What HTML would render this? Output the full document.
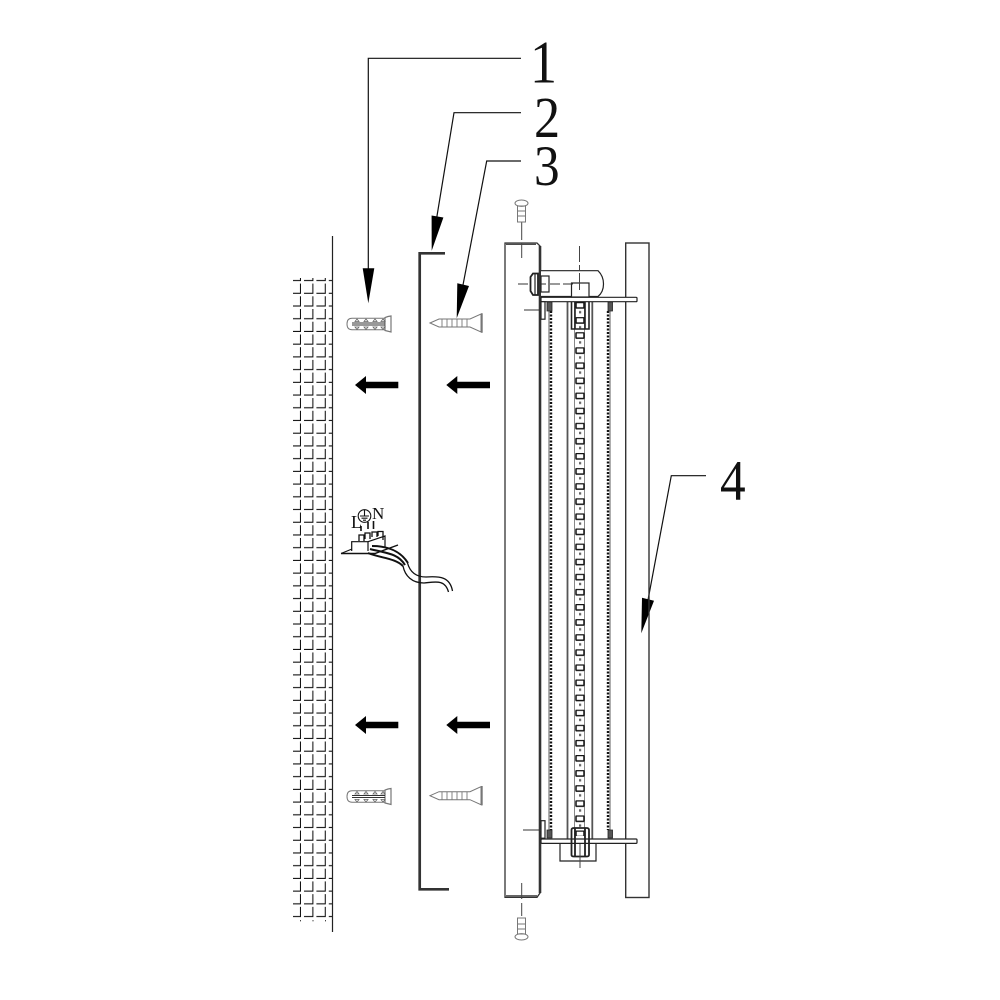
<!DOCTYPE html>
<html><head><meta charset="utf-8"><style>html,body{margin:0;padding:0;background:#fff}svg{display:block}text{font-family:"Liberation Serif",serif;fill:#111}</style></head><body>
<svg xmlns="http://www.w3.org/2000/svg" width="1000" height="1000" viewBox="0 0 1000 1000">
<defs>
<pattern id="g" patternUnits="userSpaceOnUse" width="12.4" height="12.72" patternTransform="translate(288.6 268.4)">
<path d="M3 12.3H12V2.5" fill="none" stroke="#111" stroke-width="1.3"/>
</pattern>
<pattern id="c" patternUnits="userSpaceOnUse" width="20" height="15.1" patternTransform="translate(570 302)">
<rect x="6" y="0.5" width="8" height="5.5" rx=".8" fill="#fff" stroke="#111" stroke-width="1.5"/>
<rect x="9" y="9" width="2.2" height="2.4" fill="#666"/>
</pattern>
<g id="dowel" fill="none" stroke="#777" stroke-width="1">
<path d="M38 .8H5Q0 .8 0 6.5T5 12.2H38"/>
<path d="M38 0V13L44 14.5V-1.5L41 -1Z" stroke-width="1.2"/>
<path d="M5 5.5H38M5 7.5H38" stroke="#333"/>
<path d="M8 4l2-2.5l2 2.5zM17 4l2-2.5l2 2.5zM26 4l2-2.5l2 2.5zM34 4l2-2.5l2 2.5zM8 9.5l2 2.5l2-2.5zM17 9.5l2 2.5l2-2.5zM26 9.5l2 2.5l2-2.5zM34 9.5l2 2.5l2-2.5z" stroke="#666" stroke-width=".8"/>
</g>
<g id="screw" fill="none" stroke="#777" stroke-width="1">
<path d="M0 0L9 -4H40L51 -9V9L40 4H9Z"/>
<path d="M51 -9L52 -9V9L51 9" stroke-width="1.4"/>
<path d="M12 -4V4M17 -4V4M22 -4V4M27 -4V4M32 -4V4M37 -4V4" stroke-width=".9"/>
</g>
<g id="pin" fill="none" stroke="#777" stroke-width="1">
<path d="M-4 6H4V22H-4ZM-4 11H4M-4 16H4"/>
<ellipse cx="0" cy="3.2" rx="6.5" ry="3.2"/>
</g>
</defs>

<!-- wall -->
<rect x="293" y="278" width="39" height="640" fill="url(#g)"/>
<path d="M300 920.7h1M312.5 920.7h1M325 920.7h1" stroke="#444" stroke-width="1.4"/>
<line x1="332.5" y1="236" x2="332.5" y2="932" stroke="#222" stroke-width="1.2"/>

<!-- bracket -->
<path d="M445 253.3H419.7V889.3H449" fill="none" stroke="#333" stroke-width="2.7"/>

<!-- leaders -->
<g fill="none" stroke="#111" stroke-width="1.2">
<path d="M521 58.3H368.3V270"/>
<path d="M521 112.7H454L436 222"/>
<path d="M521 161H486.7L463 285"/>
<path d="M706 475.7H671.3L648 600"/>
</g>
<g fill="#000">
<path d="M362.7 268.3H374.3L368.3 303.3Z"/>
<path d="M431.6 215.5L443.4 217.5L431.7 250.7Z"/>
<path d="M457.3 283.3L469 286L456.7 318.3Z"/>
<path d="M642 597.7L654 600.7L641.3 633.3Z"/>
</g>
<text transform="translate(530 82.7) scale(.9 1)" font-size="60">1</text>
<text transform="translate(534 137) scale(.9 1)" font-size="58">2</text>
<text transform="translate(534 185) scale(.9 1)" font-size="57">3</text>
<text transform="translate(720 500) scale(.9 1)" font-size="57">4</text>

<!-- thick arrows -->
<g fill="#000">
<path d="M355 385L366 376V381.7H398.3V388.3H366V394Z"/>
<path d="M446.3 385L457.3 376V381.7H490V388.3H457.3V394Z"/>
<path d="M355 725L366 716V721.7H398.3V728.3H366V734Z"/>
<path d="M446.3 725L457.3 716V721.7H490V728.3H457.3V734Z"/>
</g>

<!-- dowels, screws -->
<use href="#dowel" x="347" y="317.5"/>
<use href="#dowel" x="347" y="790"/>
<use href="#screw" x="430" y="323"/>
<use href="#screw" x="430" y="795.7"/>

<!-- fixture plate -->
<g fill="none" stroke="#333">
<path d="M505 897.3V243H537L540 246V893L537 897.3Z" stroke-width="1.3"/>
<path d="M506 244.3H536M506 895.8H537" stroke-width="1.1"/>
<line x1="540" y1="246" x2="540" y2="893" stroke-width="2.6"/>
<rect x="625.7" y="243" width="23.3" height="654.5" stroke-width="1.4"/>
<!-- channel lines -->
<path d="M567.5 301V839M592.3 301V839" stroke-width="1.8" stroke="#555"/>
<path d="M549 311V830M610 311V830" stroke-width="1.2" stroke="#777"/>
<path d="M551 311V830M608 311V830" stroke-width="2.4" stroke="#111" stroke-dasharray="2 1.5"/>
<path d="M574.5 301V839M584.5 301V839" stroke-width="1" stroke="#888"/>
</g>
<rect x="575" y="302" width="10" height="534" fill="url(#c)"/>

<!-- top hardware -->
<g fill="none" stroke="#222" stroke-width="1.2">
<path d="M541 270.7H598Q603.5 276 603.5 284T598 296.5H541" fill="#fff"/>
<rect x="541" y="276" width="8" height="16" fill="#fff"/>
<path d="M533 273.5H538V295H533L530.5 291V277Z" stroke-width="1.8" fill="#fff"/>
<line x1="535" y1="274" x2="535" y2="295"/>
<rect x="541" y="297.3" width="96" height="4.4" rx="1" fill="#fff"/>
<rect x="571.5" y="283" width="17.5" height="14" fill="#fff"/>
<path d="M571.5 301.7V329H589V301.7M575 301.7V329M585 301.7V329" stroke-width="1.6"/>
<rect x="541" y="301.7" width="4" height="17.5" fill="#fff"/>
<path d="M547 302V311H552V302Z M608 302V311H612.5V302Z" fill="#555" stroke="#222" stroke-width=".8"/>
<rect x="541" y="820.7" width="4" height="17.5" fill="#fff"/>
<path d="M547 830V838H552V830Z M608 830V838H612.5V830Z" fill="#555" stroke="#222" stroke-width=".8"/>
<path d="M560 843.3V861H596V843.3" stroke-width="1.2"/>
<rect x="541" y="839" width="96" height="4.4" rx="1" fill="#fff"/>
<path d="M571.5 838V830Q571.5 828 574 828H586.5Q589 828 589 830V855Q589 856.5 586.5 856.5H574Q571.5 856.5 571.5 855ZM575 828V856M585 828V856" stroke-width="1.8"/>
</g>
<g fill="none" stroke="#333" stroke-width="1">
<path d="M518 284H528M541 284H546M550 284H560M563 284H573" />
<path d="M524 310H541M523 830H541"/>
<path d="M579.5 246V262M579.5 265V270M579.5 273V290" stroke="#444"/>
<path d="M580 844V868" stroke="#444"/>
<path d="M521.7 222V240M521.7 243V258" stroke="#444"/>
<path d="M521.7 883V899M521.7 903V916" stroke="#444"/>
</g>
<use href="#pin" x="521.5" y="200"/>
<use href="#pin" transform="translate(521.5 940) scale(1 -1)"/>

<!-- terminal block -->
<g fill="none" stroke="#111" stroke-width="1.1">
<path d="M341 553.5H375L398 545" stroke-width="1.4"/>
<path d="M341 553.5L352 549"/>
<path d="M351.7 551V541.7H368V551" stroke-width="1.2"/>
<path d="M359 541V535H364V541M365 539V533H370V539M372 537V532H377V537M378 536V531.5H383V540" stroke-width="1.3"/>
<path d="M368 541.7L385 536V547" stroke-width="1.2"/>
<path d="M361 531V526M368 529V522M373.5 529V521" stroke-width="1.6"/>
<circle cx="364.5" cy="516" r="6.3"/>
<path d="M364.5 510V516M360 516H369M361.5 518.2H367.5M363 520.2H366"/>
<path d="M372 546C390 546 401 552 408 563" stroke-width="2"/>
<path d="M370 549C385 553 398 553 405 565" stroke-width="2"/>
<path d="M368 553C380 558 395 558 403 566" stroke-width="2"/>
<path d="M407.5 563C410 572 416 577 426 577C440 576 450 577 452.5 591" stroke-width="1.3"/>
<path d="M403 566C405 576 412 583 424 583C435 582 445 579 448.5 592" stroke-width="1.3"/>
</g>
<text x="351" y="528" font-size="18">L</text>
<text x="372" y="519" font-size="17">N</text>
</svg>
</body></html>
